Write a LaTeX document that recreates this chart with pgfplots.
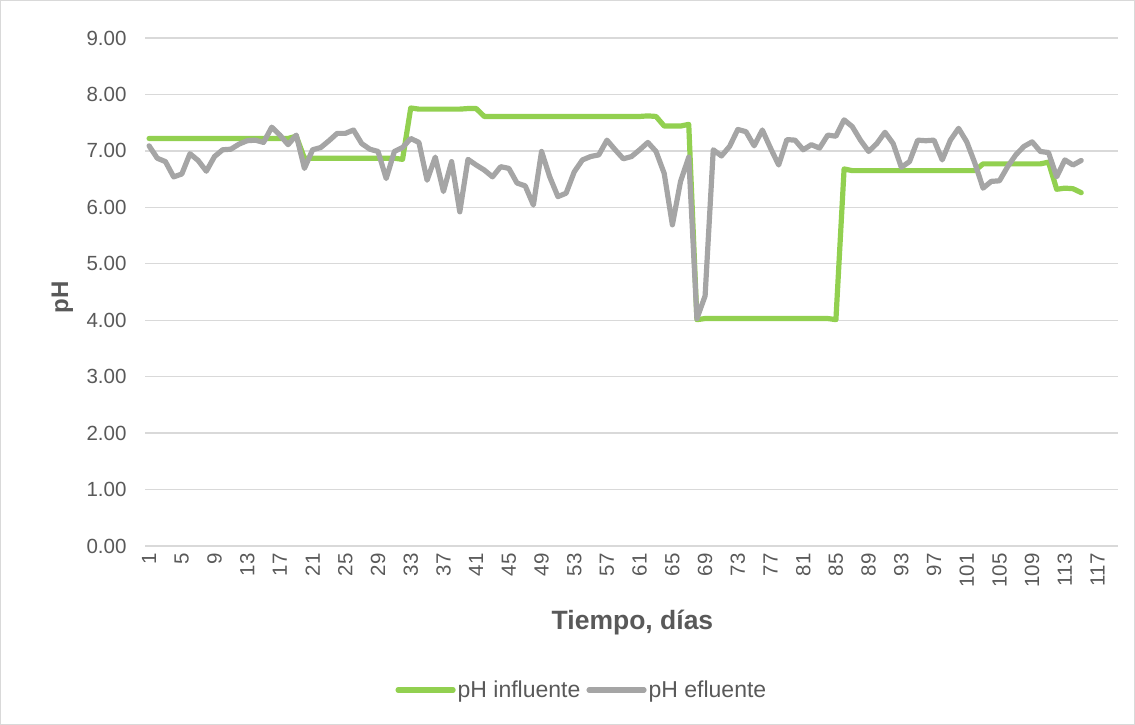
\documentclass[border=0pt]{standalone}
\usepackage{fontspec}
\setmainfont{Liberation Sans}
\usepackage{pgfplots}
\usepackage{pgfplotstable}
\pgfplotsset{compat=1.18}
\definecolor{phgreen}{HTML}{92D050}
\definecolor{phgray}{HTML}{A5A5A5}
\definecolor{gridgray}{HTML}{D9D9D9}
\definecolor{txtgray}{HTML}{595959}

\pgfplotstableread{
x inf ef
1 7.22 7.09
2 7.22 6.87
3 7.22 6.81
4 7.22 6.54
5 7.22 6.59
6 7.22 6.95
7 7.22 6.83
8 7.22 6.64
9 7.22 6.90
10 7.22 7.02
11 7.22 7.03
12 7.22 7.12
13 7.22 7.18
14 7.22 7.19
15 7.22 7.15
16 7.22 7.42
17 7.22 7.28
18 7.22 7.11
19 7.26 7.28
20 6.87 6.69
21 6.87 7.02
22 6.87 7.06
23 6.87 7.18
24 6.87 7.31
25 6.87 7.31
26 6.87 7.37
27 6.87 7.13
28 6.87 7.03
29 6.87 6.99
30 6.87 6.51
31 6.87 6.99
32 6.85 7.06
33 7.76 7.22
34 7.74 7.15
35 7.74 6.48
36 7.74 6.89
37 7.74 6.28
38 7.74 6.81
39 7.74 5.92
40 7.75 6.85
41 7.75 6.75
42 7.61 6.66
43 7.61 6.54
44 7.61 6.72
45 7.61 6.69
46 7.61 6.43
47 7.61 6.38
48 7.61 6.04
49 7.61 6.99
50 7.61 6.54
51 7.61 6.19
52 7.61 6.25
53 7.61 6.63
54 7.61 6.84
55 7.61 6.90
56 7.61 6.93
57 7.61 7.19
58 7.61 7.02
59 7.61 6.86
60 7.61 6.90
61 7.61 7.02
62 7.62 7.15
63 7.61 6.99
64 7.44 6.60
65 7.44 5.69
66 7.44 6.46
67 7.47 6.89
68 4.01 4.03
69 4.03 4.43
70 4.03 7.02
71 4.03 6.91
72 4.03 7.08
73 4.03 7.38
74 4.03 7.34
75 4.03 7.09
76 4.03 7.37
77 4.03 7.05
78 4.03 6.75
79 4.03 7.20
80 4.03 7.19
81 4.03 7.02
82 4.03 7.11
83 4.03 7.05
84 4.03 7.28
85 4.01 7.26
86 6.68 7.55
87 6.65 7.43
88 6.65 7.19
89 6.65 6.99
90 6.65 7.13
91 6.65 7.33
92 6.65 7.13
93 6.65 6.71
94 6.65 6.81
95 6.65 7.19
96 6.65 7.18
97 6.65 7.19
98 6.65 6.84
99 6.65 7.19
100 6.65 7.40
101 6.65 7.16
102 6.65 6.78
103 6.77 6.34
104 6.77 6.46
105 6.77 6.47
106 6.77 6.72
107 6.77 6.93
108 6.77 7.08
109 6.77 7.16
110 6.77 6.99
111 6.80 6.97
112 6.32 6.54
113 6.34 6.84
114 6.33 6.75
115 6.26 6.83
}\datatable

\begin{document}
\begin{tikzpicture}[x=1pt,y=1pt]
\useasboundingbox (0,0) rectangle (1135,725);
\draw[gridgray, line width=1pt] (0.5,0.5) rectangle (1134.5,724.5);
\begin{axis}[
  at={(145pt,179pt)}, anchor=south west,
  width=973pt, height=508pt, scale only axis,
  xmin=0.5, xmax=119.5, ymin=0, ymax=9,
  xtick={1,5,...,117},
  ytick={0,1,2,3,4,5,6,7,8,9},
  yticklabels={0.00,1.00,2.00,3.00,4.00,5.00,6.00,7.00,8.00,9.00},
  /pgf/number format/assume math mode=true,
  ymajorgrids,
  grid style={gridgray, line width=1.3pt},
  axis line style={draw=none},
  major tick length=0pt,
  tick label style={font=\fontsize{20.5}{24}\selectfont, text=txtgray},
  x tick label style={rotate=90, anchor=east},
  xticklabel shift=4pt,
  yticklabel shift=15pt,
  xlabel={Tiempo, días},
  xlabel style={at={(axis description cs:0.501,-0.15)}, anchor=center,
    font=\bfseries\fontsize{26.5}{31}\selectfont, text=txtgray},
  ylabel={pH},
  ylabel style={at={(axis description cs:-0.085,0.49)}, anchor=center,
    font=\bfseries\fontsize{24}{28}\selectfont, text=txtgray},
  legend style={at={(axis description cs:0.449,-0.2835)}, anchor=center,
    draw=none, fill=none, legend columns=2,
    font=\fontsize{23}{27}\selectfont, text=txtgray,
    /tikz/every even column/.append style={column sep=4pt}},
  legend image code/.code={\draw[#1] (0pt,0pt) -- (55pt,0pt);},
  legend cell align=left,
  clip=false,
]
\addplot[phgreen, line width=5.2pt, line join=round, line cap=round] table[x=x,y=inf] {\datatable};
\addlegendentry{pH influente}
\addplot[phgray, line width=5.2pt, line join=round, line cap=round] table[x=x,y=ef] {\datatable};
\addlegendentry{pH efluente}
\end{axis}
\end{tikzpicture}
\end{document}
